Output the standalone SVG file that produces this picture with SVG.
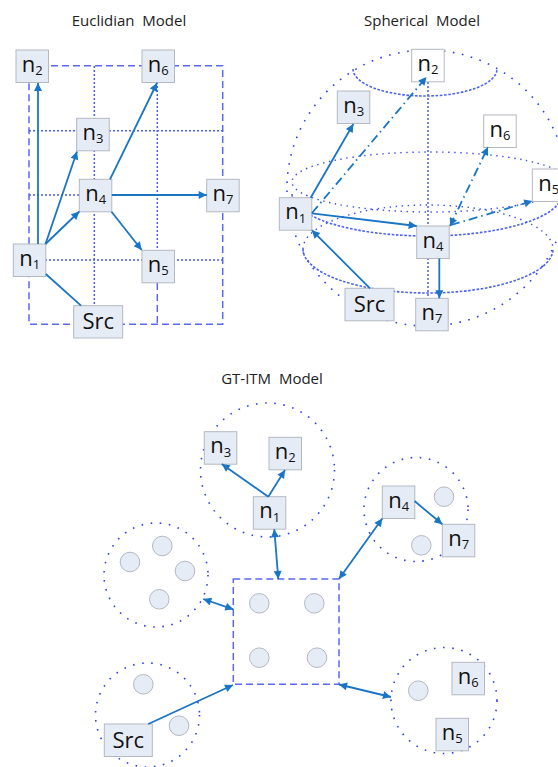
<svg xmlns="http://www.w3.org/2000/svg" width="558" height="767" viewBox="0 0 558 767">
  <style>
    .title { font-family: "Open Sans", "Liberation Sans", sans-serif; font-size: 15px; fill: #222; white-space: pre; }
    .box { fill: #e6ecf6; stroke: #b4b8c0; stroke-width: 1; }
    .wbox { fill: #ffffff; stroke: #b4b8c0; stroke-width: 1; }
    .lbl { font-family: "Open Sans", "Liberation Sans", sans-serif; font-size: 22px; fill: #111; text-anchor: middle; }
    .sub { font-size: 13px; }
    .dash { fill: none; stroke: #5a68f2; stroke-width: 1.5; stroke-dasharray: 7 4; }
    .grid { fill: none; stroke: #4a5cf2; stroke-width: 1.5; stroke-dasharray: 2 2; }
    .ring { fill: none; stroke: #3040ee; stroke-width: 1.6; stroke-dasharray: 1.6 7.6; }
    .fine { fill: none; stroke: #3a4cee; stroke-width: 1.4; stroke-dasharray: 1.4 4.6; }
    .front { fill: none; stroke: #4a63f0; stroke-width: 1.6; stroke-dasharray: 2.6 1.6; }
    .pc { fill: #e6ecf6; stroke: #b4b8c0; stroke-width: 1; }
    .arr { fill: none; stroke: #1a75c5; stroke-width: 1.8; }
    .dd { stroke-dasharray: 9 4 1.5 4; }
  </style>
  <defs>
    <marker id="ah" viewBox="0 0 10 10" refX="10" refY="5" markerWidth="10" markerHeight="8" orient="auto-start-reverse" markerUnits="userSpaceOnUse">
      <path d="M0,0 L10,5 L0,10 z" fill="#1a75c5"/>
    </marker>
  </defs>

  <!-- titles -->
  <text class="title" x="129" y="26" text-anchor="middle">Euclidian  Model</text>
  <text class="title" x="422" y="26" text-anchor="middle">Spherical  Model</text>
  <text class="title" x="272" y="384" text-anchor="middle">GT-ITM  Model</text>

  <!-- Euclidian grid -->
  <g id="euclid-grid">
    <rect class="dash" x="29" y="65.7" width="193.7" height="258.6"/>
    <line class="grid" x1="94.3" y1="66" x2="94.3" y2="324"/>
    <line class="grid" x1="157.3" y1="66" x2="157.3" y2="266"/>
    <line class="dash" x1="157.3" y1="283" x2="157.3" y2="324"/>
    <line class="grid" x1="29" y1="130.7" x2="222.7" y2="130.7"/>
    <line class="grid" x1="29" y1="195" x2="222.7" y2="195"/>
    <line class="grid" x1="29" y1="260" x2="222.7" y2="260"/>
  </g>

  <!-- sphere outline, latitude rings and axis -->
  <g id="sphere">
    <ellipse class="ring" cx="427" cy="188" rx="140" ry="138"/>
    <path class="front" d="M353,69 A72,27 0 0 0 497,69"/>
    <ellipse class="fine" cx="430" cy="182" rx="138" ry="30"/>
    <path class="front" d="M292,194 A135,42 0 0 0 562,194"/>
    <path class="fine" d="M303,249 A125,44 0 0 1 553,249"/>
    <path class="front" d="M303,249 A125,44 0 0 0 553,249"/>
    <line class="grid" x1="428" y1="82" x2="428" y2="298"/>
  </g>

  <!-- GT-ITM domains -->
  <g id="domains">
    <circle class="ring" cx="267.5" cy="470" r="67"/>
    <circle class="ring" cx="156" cy="575" r="52"/>
    <circle class="ring" cx="147.5" cy="715" r="52"/>
    <circle class="ring" cx="416" cy="509.5" r="52"/>
    <circle class="ring" cx="444" cy="700.5" r="53"/>
    <rect class="dash" x="233.3" y="579" width="105.7" height="105.3"/>
    <circle class="pc" cx="130" cy="562" r="9.8"/>
    <circle class="pc" cx="162.3" cy="546" r="9.8"/>
    <circle class="pc" cx="185" cy="571" r="9.8"/>
    <circle class="pc" cx="159.3" cy="599.3" r="9.8"/>
    <circle class="pc" cx="259.3" cy="603.3" r="9.8"/>
    <circle class="pc" cx="314.3" cy="603.3" r="9.8"/>
    <circle class="pc" cx="259.3" cy="657.7" r="9.8"/>
    <circle class="pc" cx="317" cy="657.7" r="9.8"/>
    <circle class="pc" cx="143.3" cy="684.3" r="9.8"/>
    <circle class="pc" cx="179" cy="725.7" r="9.8"/>
    <circle class="pc" cx="444" cy="496.7" r="9.8"/>
    <circle class="pc" cx="421.3" cy="545.3" r="9.8"/>
    <circle class="pc" cx="418.3" cy="690.7" r="9.8"/>
  </g>

  <!-- Euclidian nodes -->
  <g id="e-n2"><rect class="box" x="16" y="50" width="32.5" height="32.5"/><text class="lbl" x="32.3" y="71.7">n<tspan class="sub" dy="3.3">2</tspan></text></g>
  <g id="e-n6"><rect class="box" x="142" y="50" width="32.5" height="32.5"/><text class="lbl" x="158.3" y="71.7">n<tspan class="sub" dy="3.3">6</tspan></text></g>
  <g id="e-n3"><rect class="box" x="76.7" y="118.3" width="32.5" height="32.5"/><text class="lbl" x="93" y="140">n<tspan class="sub" dy="3.3">3</tspan></text></g>
  <g id="e-n4"><rect class="box" x="79.3" y="179.3" width="32.5" height="32.5"/><text class="lbl" x="95.6" y="201">n<tspan class="sub" dy="3.3">4</tspan></text></g>
  <g id="e-n7"><rect class="box" x="206.7" y="179.3" width="32.5" height="32.5"/><text class="lbl" x="223" y="201">n<tspan class="sub" dy="3.3">7</tspan></text></g>
  <g id="e-n1"><rect class="box" x="13.3" y="244" width="32.5" height="32.5"/><text class="lbl" x="29.6" y="265.7">n<tspan class="sub" dy="3.3">1</tspan></text></g>
  <g id="e-n5"><rect class="box" x="142" y="250.3" width="32.5" height="32.5"/><text class="lbl" x="158.3" y="272">n<tspan class="sub" dy="3.3">5</tspan></text></g>
  <g id="e-src"><rect class="box" x="73.7" y="305.7" width="49" height="32.3"/><text class="lbl" x="98.2" y="329.3">Src</text></g>

  <!-- Spherical nodes -->
  <g id="s-n2"><rect class="wbox" x="411.7" y="49.3" width="32.5" height="32.5"/><text class="lbl" x="428" y="71">n<tspan class="sub" dy="3.3">2</tspan></text></g>
  <g id="s-n3"><rect class="box" x="337.3" y="91" width="32.5" height="32.5"/><text class="lbl" x="353.6" y="112.7">n<tspan class="sub" dy="3.3">3</tspan></text></g>
  <g id="s-n6"><rect class="wbox" x="483.7" y="115" width="32.5" height="32.5"/><text class="lbl" x="500" y="136.7">n<tspan class="sub" dy="3.3">6</tspan></text></g>
  <g id="s-n5"><rect class="wbox" x="532.3" y="169" width="32.5" height="32.5"/><text class="lbl" x="548.6" y="190.7">n<tspan class="sub" dy="3.3">5</tspan></text></g>
  <g id="s-n1"><rect class="box" x="279.3" y="197.7" width="32.5" height="32.5"/><text class="lbl" x="295.6" y="219.4">n<tspan class="sub" dy="3.3">1</tspan></text></g>
  <g id="s-n4"><rect class="box" x="416.7" y="226" width="32.5" height="32.5"/><text class="lbl" x="433" y="247.7">n<tspan class="sub" dy="3.3">4</tspan></text></g>
  <g id="s-n7"><rect class="box" x="415.7" y="298.3" width="32.5" height="32.5"/><text class="lbl" x="432" y="320">n<tspan class="sub" dy="3.3">7</tspan></text></g>
  <g id="s-src"><rect class="box" x="345" y="288.3" width="49" height="32.5"/><text class="lbl" x="369.5" y="312">Src</text></g>

  <!-- GT-ITM nodes -->
  <g id="g-n3"><rect class="box" x="204.3" y="431.7" width="32.5" height="32.5"/><text class="lbl" x="220.6" y="453.4">n<tspan class="sub" dy="3.3">3</tspan></text></g>
  <g id="g-n2"><rect class="box" x="269" y="437.3" width="32.5" height="32.5"/><text class="lbl" x="285.3" y="459">n<tspan class="sub" dy="3.3">2</tspan></text></g>
  <g id="g-n1"><rect class="box" x="253.3" y="496.7" width="32.5" height="32.5"/><text class="lbl" x="269.6" y="518.4">n<tspan class="sub" dy="3.3">1</tspan></text></g>
  <g id="g-n4"><rect class="box" x="382.3" y="486" width="32.5" height="32.5"/><text class="lbl" x="398.6" y="507.7">n<tspan class="sub" dy="3.3">4</tspan></text></g>
  <g id="g-n7"><rect class="box" x="442.3" y="524.3" width="32.5" height="32.5"/><text class="lbl" x="458.6" y="546">n<tspan class="sub" dy="3.3">7</tspan></text></g>
  <g id="g-n6"><rect class="box" x="452" y="662.3" width="32.5" height="32.5"/><text class="lbl" x="468.3" y="684">n<tspan class="sub" dy="3.3">6</tspan></text></g>
  <g id="g-n5"><rect class="box" x="436" y="718.3" width="32.5" height="32.5"/><text class="lbl" x="452.3" y="740">n<tspan class="sub" dy="3.3">5</tspan></text></g>
  <g id="g-src"><rect class="box" x="104.3" y="724" width="48" height="32.5"/><text class="lbl" x="128.3" y="747.6">Src</text></g>

  <!-- connectors -->
  <g id="connectors">
    <!-- Euclidian -->
    <line class="arr" x1="38" y1="244" x2="38" y2="83" marker-end="url(#ah)"/>
    <line class="arr" x1="45.5" y1="244" x2="77" y2="151.5" marker-end="url(#ah)"/>
    <line class="arr" x1="45.5" y1="244" x2="79.3" y2="211.5" marker-end="url(#ah)"/>
    <line class="arr" x1="110" y1="179.3" x2="157" y2="83" marker-end="url(#ah)"/>
    <line class="arr" x1="111.8" y1="195" x2="206.7" y2="195" marker-end="url(#ah)"/>
    <line class="arr" x1="111.5" y1="211.7" x2="141.7" y2="250" marker-end="url(#ah)"/>
    <line class="arr" x1="81" y1="305.7" x2="45.8" y2="274"/>
    <!-- Spherical -->
    <line class="arr" x1="310.7" y1="197.7" x2="353.3" y2="124" marker-end="url(#ah)"/>
    <line class="arr dd" x1="312" y1="213" x2="426.5" y2="77" marker-end="url(#ah)"/>
    <line class="arr" x1="311.8" y1="213.3" x2="416.7" y2="226" marker-end="url(#ah)"/>
    <line class="arr dd" x1="450" y1="226" x2="488" y2="147" marker-start="url(#ah)" marker-end="url(#ah)"/>
    <line class="arr dd" x1="451" y1="225" x2="532.3" y2="201" marker-end="url(#ah)"/>
    <line class="arr" x1="439.3" y1="258.5" x2="439.3" y2="298.3" marker-end="url(#ah)"/>
    <line class="arr" x1="370" y1="288.3" x2="311.8" y2="230.2" marker-end="url(#ah)"/>
    <!-- GT-ITM -->
    <line class="arr" x1="268.3" y1="496.7" x2="221.7" y2="464" marker-end="url(#ah)"/>
    <line class="arr" x1="268.3" y1="496.7" x2="285" y2="470" marker-end="url(#ah)"/>
    <line class="arr" x1="274.3" y1="529.3" x2="278.3" y2="579" marker-start="url(#ah)" marker-end="url(#ah)"/>
    <line class="arr" x1="339" y1="579" x2="382.3" y2="518.5" marker-start="url(#ah)" marker-end="url(#ah)"/>
    <line class="arr" x1="203.3" y1="599" x2="233.3" y2="609.3" marker-start="url(#ah)" marker-end="url(#ah)"/>
    <line class="arr" x1="148.3" y1="724" x2="233" y2="685" marker-end="url(#ah)"/>
    <line class="arr" x1="414.5" y1="501" x2="442.3" y2="524.3" marker-end="url(#ah)"/>
    <line class="arr" x1="339" y1="684.5" x2="391" y2="697" marker-start="url(#ah)" marker-end="url(#ah)"/>
  </g>
</svg>
